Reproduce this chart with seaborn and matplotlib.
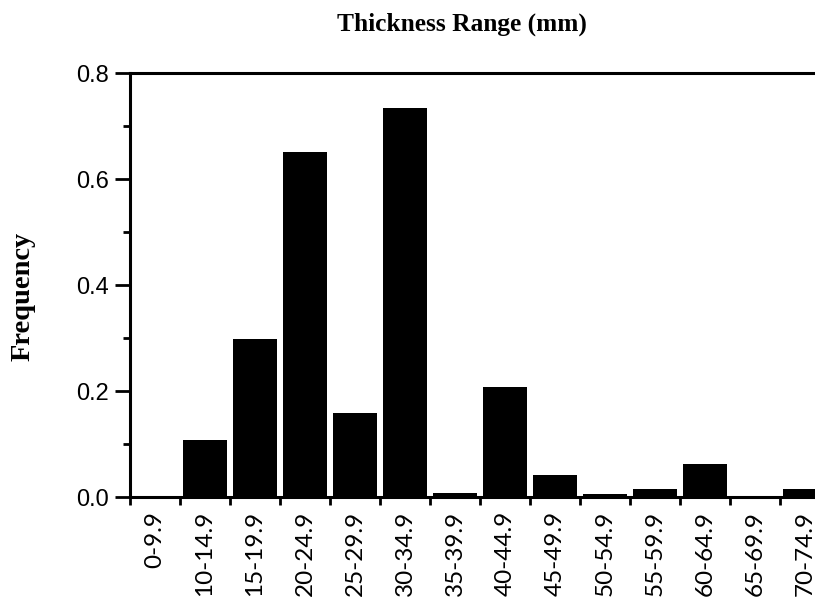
import matplotlib
matplotlib.use("Agg")
import matplotlib.pyplot as plt
from matplotlib.ticker import FixedLocator, MultipleLocator
import pandas as pd
import seaborn as sns

# thickness bins (mm) and their frequencies
ranges = ["0-9.9", "10-14.9", "15-19.9", "20-24.9", "25-29.9", "30-34.9",
          "35-39.9", "40-44.9", "45-49.9", "50-54.9", "55-59.9", "60-64.9",
          "65-69.9", "70-74.9"]
freq = [0.0, 0.107, 0.298, 0.651, 0.158, 0.734, 0.008, 0.207, 0.042,
        0.006, 0.015, 0.062, 0.0, 0.015]

df = pd.DataFrame({"range": ranges, "freq": freq})

sns.set_style("ticks")
plt.rcParams['font.family'] = ['Liberation Sans', 'DejaVu Sans']
plt.rcParams['text.color'] = 'black'
plt.rcParams['xtick.color'] = 'black'
plt.rcParams['ytick.color'] = 'black'

fig = plt.figure(figsize=(8.15, 6.03), dpi=100)
ax = fig.add_axes([130 / 815, 106 / 603, 685 / 815, 424 / 603])

sns.barplot(data=df, x="range", y="freq", color="black", saturation=1,
            width=0.88, linewidth=0, ax=ax)

ax.set_xlim(-0.5, 13.2)
ax.set_ylim(0, 0.8)

# labels sit at bar centres, tick marks at bin edges
ax.set_xticks(range(len(ranges)))
ax.set_xticklabels(ranges, rotation=90, fontsize=17.5, family=['Lato', 'DejaVu Sans'])
ax.tick_params(axis='x', which='major', length=0, pad=10)
ax.xaxis.set_minor_locator(FixedLocator([i - 0.5 for i in range(len(ranges) + 1)]))
ax.tick_params(axis='x', which='minor', length=6, width=2, direction='out')

ax.set_yticks([0.0, 0.2, 0.4, 0.6, 0.8])
ax.set_yticklabels(["0.0", "0.2", "0.4", "0.6", "0.8"], fontsize=17)
ax.yaxis.set_minor_locator(MultipleLocator(0.1))
ax.tick_params(axis='y', which='major', length=11, width=2, direction='out', pad=4)
ax.tick_params(axis='y', which='minor', length=5, width=2, direction='out')

for side in ['left', 'top', 'bottom']:
    ax.spines[side].set_visible(True)
    ax.spines[side].set_linewidth(2.2)
    ax.spines[side].set_color('black')
ax.spines['right'].set_visible(False)

ax.set_xlabel("")
ax.set_ylabel("")
serif = ['Liberation Serif', 'DejaVu Serif']
fig.text(23 / 815, 1 - 296 / 603, "Frequency", rotation=90, ha='center', va='center',
         fontsize=20.5, fontweight='bold', family=serif)
fig.text(462 / 815, 1 - 31 / 603, "Thickness Range (mm)", ha='center', va='baseline',
         fontsize=18.3, fontweight='bold', family=serif)

fig.savefig("out.png", dpi=100)
